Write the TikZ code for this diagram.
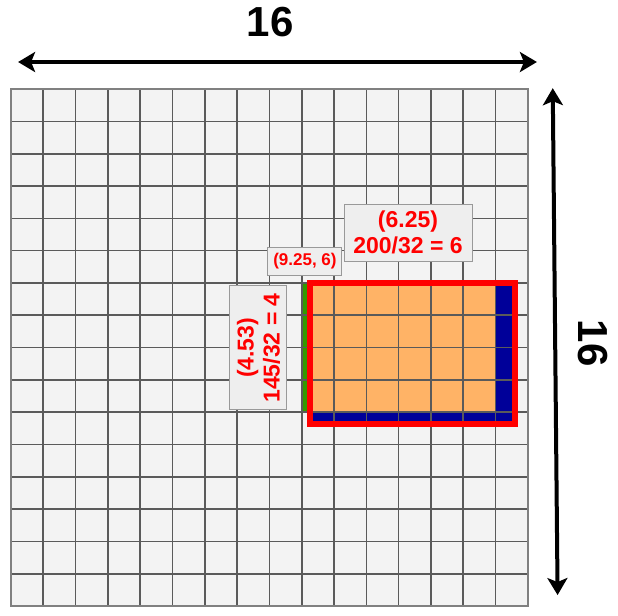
\documentclass[tikz,border=0pt]{standalone}
\usepackage{fontspec}
\setmainfont{Liberation Sans}
\usetikzlibrary{arrows.meta}
\definecolor{cellgray}{RGB}{243,243,243}
\definecolor{linegray}{RGB}{90,90,90}
\definecolor{boxgray}{RGB}{238,238,238}
\definecolor{tileorange}{RGB}{255,179,102}
\definecolor{tileblue}{RGB}{0,0,153}
\definecolor{tilegreen}{RGB}{51,153,0}
\tikzset{
  dimarrow/.style={line width=4pt,{Stealth[length=17pt,width=20pt,inset=4pt]}-{Stealth[length=17pt,width=20pt,inset=4pt]}},
  dimlabel/.style={font=\fontsize{42}{48}\selectfont\bfseries},
  infobox/.style={draw=black!40,line width=1pt,fill=boxgray,text=red,align=center,inner sep=2pt,
    font=\fontsize{23}{26}\selectfont\bfseries},
}
\begin{document}
\begin{tikzpicture}[x=32.31pt,y=32.31pt]
			\useasboundingbox (-0.34,-0.28) rectangle (18.79,18.76);
			%\draw[help lines] (0,0) grid (16,16);
			\fill [cellgray] (0,0) rectangle (16,16);
			\fill [tilegreen] (8.99,6) rectangle (9.25,10);
			\fill [tileorange] (9.25,6) rectangle (15,10);
			\fill [tileblue] (15,5.63) rectangle (15.6,10);
			\fill [tileblue] (9.25,5.63) rectangle (15,6);
			\draw [linegray,line width=1.6pt,step=1] (0,0) grid (16,16);
			\draw [black!50,line width=2.2pt] (0,0) rectangle (16,16);
			\draw [red,line width=6pt] (9.25,5.63) rectangle (15.6,10);
			\coordinate (W) at (0.22,16.84);
			\coordinate (E) at (16.28,16.84);
			\coordinate (N) at (16.77,16.03);
			\coordinate (S) at (16.92,0.34);
			\draw [dimarrow] (W) to (E);
			\draw [dimarrow] (N) to (S);
			\node [dimlabel] (width) at (8.02,18.07) {16};
			\node [dimlabel,rotate=-90] (height) at (18.01,8.14) {16};
			\node [infobox,font=\fontsize{17}{20}\selectfont\bfseries,minimum width=74pt,minimum height=28pt] (corner) at (9.10,10.68) {(9.25, 6)};
			\node [infobox,minimum width=128pt,minimum height=57pt] (cols) at (12.29,11.56) {(6.25)\\200/32 = 6};
			\node [infobox,rotate=90,minimum width=124pt,minimum height=57pt] (rows) at (7.66,7.99) {(4.53)\\145/32 = 4};
		\end{tikzpicture}
\end{document}
